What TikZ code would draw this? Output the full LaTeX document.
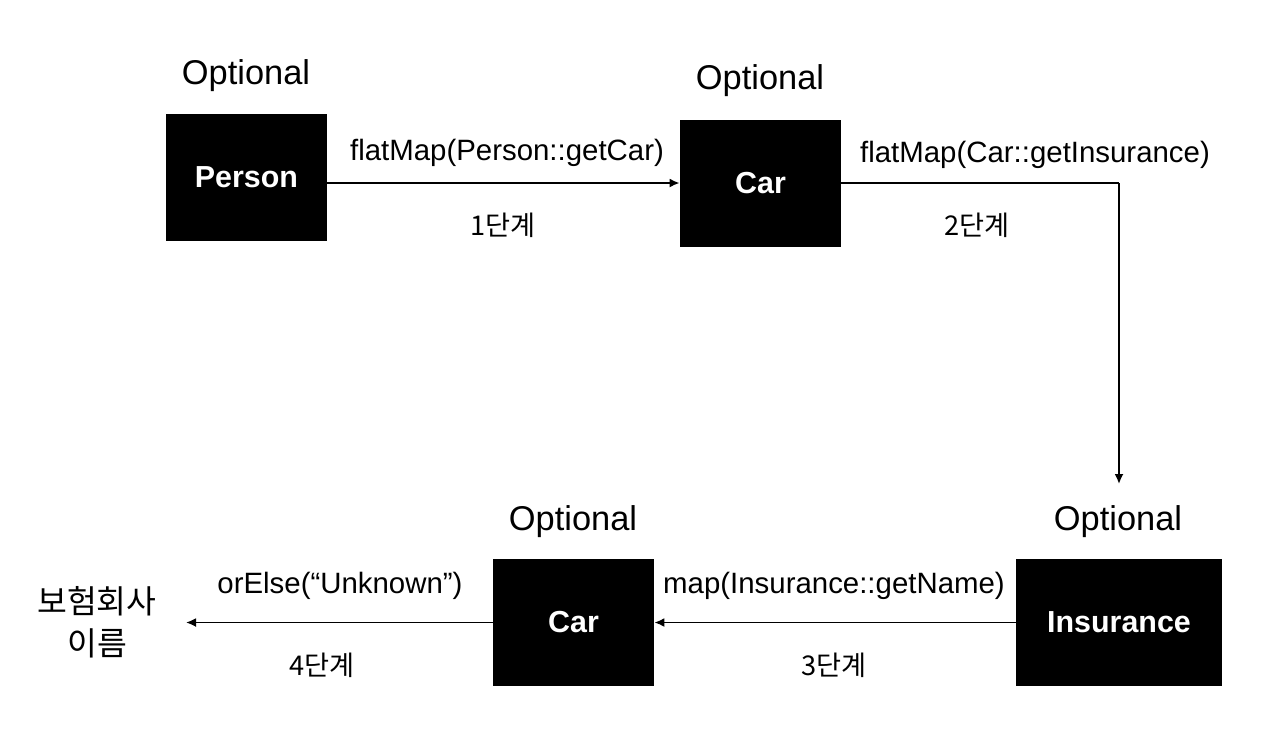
\documentclass[tikz,border=0pt]{standalone}
\usepackage{fontspec}
\setmainfont{Liberation Sans}
\newfontfamily\krfont{Noto Sans CJK KR}
\usetikzlibrary{arrows.meta}
\begin{document}
\begin{tikzpicture}[x=0.5pt,y=-0.5pt,
  box/.style={fill=black,text=white,font=\bfseries\fontsize{15.2}{18}\selectfont,inner sep=0pt,minimum width=80.5pt,minimum height=63.5pt},
  opt/.style={font=\fontsize{17.2}{20}\selectfont,inner sep=0pt},
  lbl/.style={font=\fontsize{14.7}{17}\selectfont,inner sep=0pt},
  step lbl/.style={font=\krfont\fontsize{13.6}{16}\selectfont,inner sep=0pt},
  res/.style={font=\krfont\fontsize{16.2}{19}\selectfont,inner sep=0pt},
  arr/.style={line width=0.9pt,-{Latex[length=5pt,width=4.5pt]}},
  ln/.style={line width=0.9pt}]
\useasboundingbox (0,0) rectangle (1282,752);
% boxes
\node[box] (person) at (246.5,177.5) {Person};
\node[box] (car1) at (760.5,183) {Car};
\node[box,minimum width=103pt] (ins) at (1119,622.5) {Insurance};
\node[box] (car2) at (573.5,622.5) {Car};
% Optional labels
\node[opt] (o1) at (246,76) {Optional};
\node[opt] (o2) at (760,81) {Optional};
\node[opt] (o3) at (1118,522) {Optional};
\node[opt] (o4) at (573,522) {Optional};
% connector coordinates
\coordinate (c2end) at (1119,484);
\coordinate (out) at (186,622.5);
% connectors
\draw[arr] (person.east |- car1.east) -- (car1.west);
\draw[ln] (car1.east) -- (c2end |- car1.east);
\draw[arr] (c2end |- car1.east) -- (c2end);
\draw[arr] (ins.west) -- (car2.east);
\draw[arr] (car2.west) -- (out);
% edge labels
\node[lbl] (l1) at (507,153) {flatMap(Person::getCar)};
\node[step lbl] (s1) at (503,225) {1단계};
\node[lbl] (l2) at (1035,155) {flatMap(Car::getInsurance)};
\node[step lbl] (s2) at (977,225) {2단계};
\node[lbl] (l3) at (834,586) {map(Insurance::getName)};
\node[step lbl] (s3) at (834,665) {3단계};
\node[lbl] (l4) at (340,586) {orElse(“Unknown”)};
\node[step lbl] (s4) at (322,665) {4단계};
% result
\node[res] (r1) at (97,601) {보험회사};
\node[res] (r2) at (97,643) {이름};
\end{tikzpicture}
\end{document}
